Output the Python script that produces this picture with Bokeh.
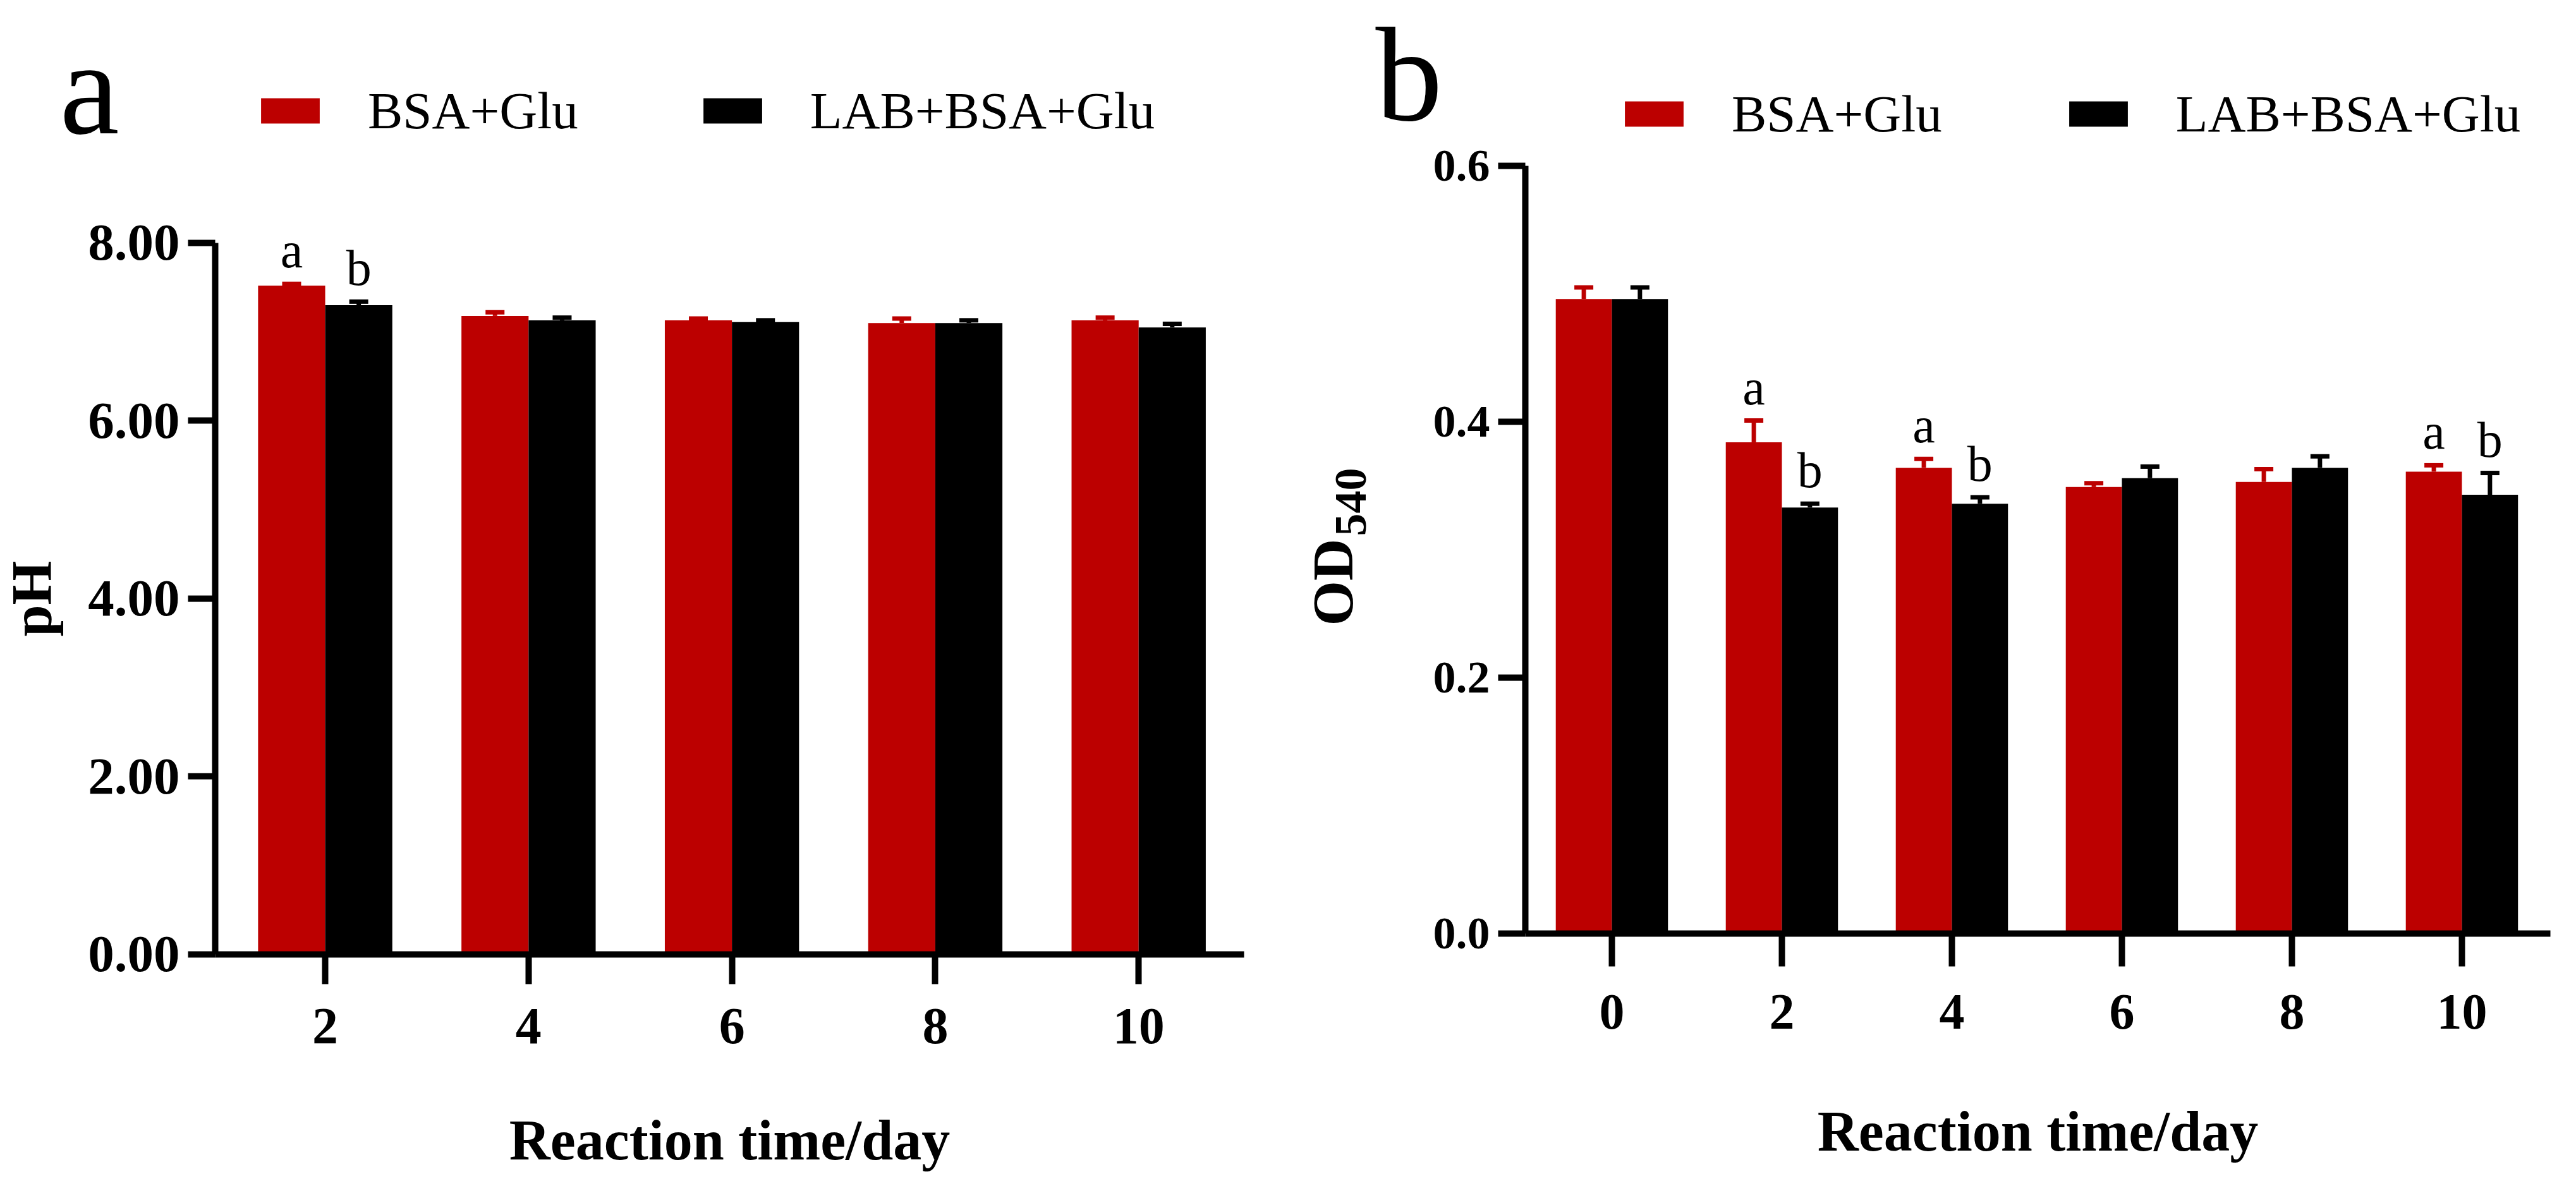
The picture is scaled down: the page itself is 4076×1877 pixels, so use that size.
import numpy as np
from bokeh.plotting import figure
from bokeh.layouts import row
from bokeh.models import (ColumnDataSource, FixedTicker, Range1d, Legend, LegendItem,
                          Label, LabelSet, Whisker, TeeHead, NumeralTickFormatter)
from bokeh.core.properties import value
from bokeh.transform import dodge
from bokeh.embed import file_html
from bokeh.resources import INLINE

FONT = "Liberation Serif"
RED = "#BC0000"
BLACK = "#000000"

# panel a: pH
ph_days = [2, 4, 6, 8, 10]
ph_bsa = [7.52, 7.18, 7.13, 7.10, 7.13]
ph_bsa_sd = [0.02, 0.04, 0.02, 0.05, 0.03]
ph_lab = [7.30, 7.13, 7.11, 7.10, 7.05]
ph_lab_sd = [0.04, 0.03, 0.02, 0.03, 0.04]
ph_bsa_sig = ["a", "", "", "", ""]
ph_lab_sig = ["b", "", "", "", ""]
ph_ticks = [0, 2, 4, 6, 8]

# panel b: OD540
od_days = [0, 2, 4, 6, 8, 10]
od_bsa = [0.496, 0.384, 0.364, 0.349, 0.353, 0.361]
od_bsa_sd = [0.009, 0.017, 0.007, 0.003, 0.010, 0.005]
od_lab = [0.496, 0.333, 0.336, 0.356, 0.364, 0.343]
od_lab_sd = [0.009, 0.003, 0.005, 0.009, 0.009, 0.017]
od_bsa_sig = ["", "a", "a", "", "", "a"]
od_lab_sig = ["", "b", "b", "", "", "b"]
od_ticks = [0, 0.2, 0.4, 0.6]

BAR_W = 0.66


def style_axis(ax, label_size, tick_out, standoff):
    ax.axis_line_width = 10
    ax.axis_line_color = "black"
    ax.major_tick_line_width = 10
    ax.major_tick_line_color = "black"
    ax.major_tick_in = 0
    ax.major_tick_out = tick_out
    ax.minor_tick_line_color = None
    ax.major_label_standoff = standoff
    ax.major_label_text_font = FONT
    ax.major_label_text_font_style = "bold"
    ax.major_label_text_font_size = label_size
    ax.major_label_text_color = "black"
    ax.axis_label_text_font = FONT
    ax.axis_label_text_font_style = "bold"
    ax.axis_label_text_font_size = "90px"
    ax.axis_label_text_color = "black"


def make_panel(days, bsa, bsa_sd, lab, lab_sd, bsa_sig, lab_sig, yticks, yfmt,
               x_view, y_view, x_axis_span, y_top, legend_loc, legend_spacing,
               letter, letter_pos, xtick, ytick, xlabel_standoff):
    # the frame fills the whole canvas; the axes sit at fixed data locations
    p = figure(width=2030, height=1860, x_range=Range1d(*x_view), y_range=Range1d(*y_view),
               output_backend="svg", toolbar_location=None, frame_align=False,
               min_border_left=0, min_border_right=0, min_border_top=0, min_border_bottom=0)
    p.outline_line_color = None
    p.grid.visible = False
    p.background_fill_color = "white"
    p.border_fill_color = "white"

    src = ColumnDataSource(dict(
        day=days, bsa=bsa, lab=lab,
        bsa_hi=np.array(bsa) + np.array(bsa_sd),
        lab_hi=np.array(lab) + np.array(lab_sd),
        bsa_sig=bsa_sig, lab_sig=lab_sig,
    ))
    x_red = dodge("day", -BAR_W / 2, range=p.x_range)
    x_blk = dodge("day", BAR_W / 2, range=p.x_range)

    r_red = p.vbar(x=x_red, top="bsa", width=BAR_W, bottom=0, source=src,
                   fill_color=RED, line_color=None)
    r_blk = p.vbar(x=x_blk, top="lab", width=BAR_W, bottom=0, source=src,
                   fill_color=BLACK, line_color=None)

    for xs, lo, hi, col in ((x_red, "bsa", "bsa_hi", RED), (x_blk, "lab", "lab_hi", BLACK)):
        w = Whisker(base=xs, lower=lo, upper=hi, source=src, line_color=col, line_width=7,
                    lower_head=None,
                    upper_head=TeeHead(size=30, line_color=col, line_width=7),
                    level="annotation")
        p.add_layout(w)

    for xs, hi, sig in ((x_red, "bsa_hi", "bsa_sig"), (x_blk, "lab_hi", "lab_sig")):
        ls = LabelSet(x=xs, y=hi, text=sig, source=src, y_offset=26,
                      text_font=value(FONT), text_font_size=value("80px"),
                      text_align="center", text_baseline="alphabetic", text_color="black")
        p.add_layout(ls)

    p.xaxis.ticker = FixedTicker(ticks=days)
    p.yaxis.ticker = FixedTicker(ticks=yticks)
    p.yaxis.formatter = NumeralTickFormatter(format=yfmt)
    p.xaxis.fixed_location = 0
    p.xaxis.bounds = x_axis_span
    p.yaxis.fixed_location = x_axis_span[0]
    p.yaxis.bounds = (0, y_top)
    style_axis(p.xaxis[0], xtick[0], xtick[1], xtick[2])
    style_axis(p.yaxis[0], ytick, 43, 13)
    p.xaxis.axis_label = "Reaction time/day"
    p.xaxis.axis_label_standoff = xlabel_standoff

    legend = Legend(items=[LegendItem(label="BSA+Glu", renderers=[r_red]),
                           LegendItem(label="LAB+BSA+Glu", renderers=[r_blk])],
                    orientation="horizontal", location=legend_loc,
                    glyph_width=116, glyph_height=50, label_standoff=65,
                    spacing=legend_spacing, padding=0, margin=0,
                    border_line_color=None, background_fill_alpha=0,
                    label_text_font=FONT, label_text_font_size="83px",
                    label_text_color="black")
    p.add_layout(legend)

    p.add_layout(Label(x=letter_pos[0], y=letter_pos[1], x_units="screen", y_units="screen",
                       text=letter, text_font=FONT, text_font_size="212px",
                       text_baseline="alphabetic", text_color="black"))
    return p


pa = make_panel(ph_days, ph_bsa, ph_bsa_sd, ph_lab, ph_lab_sd, ph_bsa_sig, ph_lab_sig,
                ph_ticks, "0.00", (-1.195, 11.422), (-2.487, 10.728), (0.9186, 11.037), 8,
                (401, 1637), 186, "a", (94, 1721), ("82px", 47, 40), "83px", 100)
pa.yaxis.axis_label = "pH"
pa.yaxis.axis_label_standoff = 36

pb = make_panel(od_days, od_bsa, od_bsa_sd, od_lab, od_lab_sd, od_bsa_sig, od_lab_sig,
                od_ticks, "0.0", (-3.866, 11.227), (-0.1891, 0.7294), (-1.0186, 11.04), 0.6,
                (529, 1632), 189, "b", (146, 1742), ("80px", 52, 45), "72px", 110)
# y label OD540 with subscript
pb.add_layout(Label(x=78, y=870, x_units="screen", y_units="screen", angle=np.pi / 2,
                    text="OD", text_font=FONT, text_font_style="bold", text_font_size="92px",
                    text_baseline="alphabetic", text_color="black"))
pb.add_layout(Label(x=107, y=1012, x_units="screen", y_units="screen", angle=np.pi / 2,
                    text="540", text_font=FONT, text_font_style="bold", text_font_size="72px",
                    text_baseline="alphabetic", text_color="black"))

layout = row(pa, pb)
open("out.html", "w").write(file_html(layout, INLINE))
